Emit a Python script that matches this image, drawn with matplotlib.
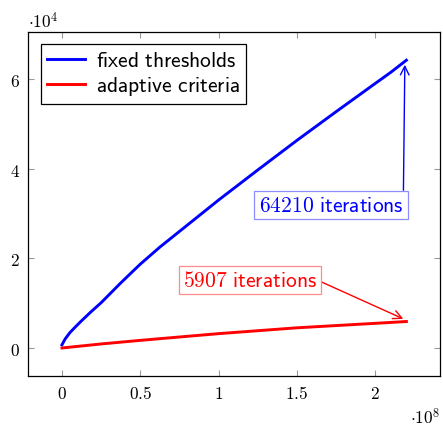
import matplotlib
matplotlib.use("Agg")
import matplotlib.pyplot as plt
from matplotlib.ticker import FuncFormatter, MultipleLocator

plt.rcParams['mathtext.fontset'] = 'cm'
plt.rcParams['font.family'] = ['DejaVu Sans']

# Data (x in evaluations, y in iterations)
fixed_x = [0.0, 0.02e8, 0.05e8, 0.08e8, 0.12e8, 0.18e8, 0.25e8, 0.375e8,
           0.5e8, 0.625e8, 0.75e8, 1.0e8, 1.25e8, 1.5e8, 1.75e8, 2.0e8,
           2.1e8, 2.2e8]
fixed_y = [0.07e4, 0.20e4, 0.34e4, 0.45e4, 0.59e4, 0.79e4, 1.01e4, 1.45e4,
           1.87e4, 2.25e4, 2.60e4, 3.30e4, 3.97e4, 4.63e4, 5.27e4, 5.90e4,
           6.15e4, 6.421e4]
adaptive_x = [0.0, 0.25e8, 0.5e8, 1.0e8, 1.5e8, 2.0e8, 2.2e8]
adaptive_y = [0.0, 0.09e4, 0.17e4, 0.32e4, 0.45e4, 0.55e4, 0.5907e4]

fixed_label = r'$\mathsf{fixed\ thresholds}$'
adaptive_label = r'$\mathsf{adaptive\ criteria}$'
fixed_note = r'$64210\ \mathsf{iterations}$'
adaptive_note = r'$5907\ \mathsf{iterations}$'

fig = plt.figure(figsize=(4.43, 4.31), dpi=100)
ax = fig.add_axes([0.0632, 0.1253, 0.9298, 0.7981])

ax.plot(fixed_x, fixed_y, color='blue', lw=2.1, label=fixed_label, zorder=3)
ax.plot(adaptive_x, adaptive_y, color='red', lw=2.1, label=adaptive_label, zorder=3)

ax.set_xlim(-0.217e8, 2.414e8)
ax.set_ylim(-0.625e4, 7.05e4)

ax.xaxis.set_major_locator(MultipleLocator(0.5e8))
ax.yaxis.set_major_locator(MultipleLocator(2e4))
ax.xaxis.set_major_formatter(FuncFormatter(lambda v, p: r'$%g$' % round(v / 1e8, 3)))
ax.yaxis.set_major_formatter(FuncFormatter(lambda v, p: r'$%g$' % round(v / 1e4, 3)))

ax.tick_params(direction='in', length=4, width=0.8, color='#999999',
               top=True, right=True, labelsize=12.5, pad=6)
for s in ax.spines.values():
    s.set_linewidth(0.9)

# multipliers in pgfplots style
fig.text(28 / 443, 1 - 22 / 431, r'$\cdot 10^4$', fontsize=12.5, va='center', ha='left')
fig.text(440 / 443, 1 - 418 / 431, r'$\cdot 10^8$', fontsize=12.5, va='center', ha='right')

leg = ax.legend(loc='upper left', bbox_to_anchor=(0.031, 0.966), fontsize=15.5,
                fancybox=False, edgecolor='black', framealpha=1, handlelength=1.75,
                borderpad=0.3, labelspacing=0.2, handletextpad=0.5,
                borderaxespad=0)
leg.get_frame().set_linewidth(0.9)

box_blue = dict(boxstyle='square,pad=0.2', fc='white', ec=(0.55, 0.55, 1.0), lw=0.9)
box_red = dict(boxstyle='square,pad=0.2', fc='white', ec=(1.0, 0.55, 0.55), lw=0.9)

ax.annotate(fixed_note, xy=(2.19e8, 6.32e4), xytext=(2.18e8, 3.19e4),
            textcoords='data', color='blue', fontsize=15.5, ha='right', va='center',
            bbox=box_blue,
            arrowprops=dict(arrowstyle='->', color='blue', lw=1.0,
                            shrinkA=0, shrinkB=0, relpos=(1.0, 0.5)))
ax.annotate(adaptive_note, xy=(2.18e8, 0.65e4), xytext=(1.20e8, 1.52e4),
            textcoords='data', color='red', fontsize=15.5, ha='center', va='center',
            bbox=box_red,
            arrowprops=dict(arrowstyle='->', color='red', lw=1.0,
                            shrinkA=0, shrinkB=0, relpos=(1.0, 0.5)))

fig.savefig('out.png', dpi=100)
